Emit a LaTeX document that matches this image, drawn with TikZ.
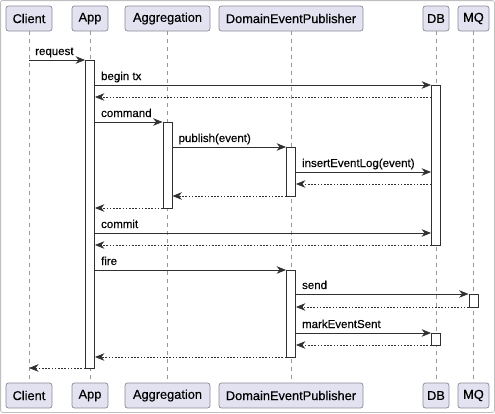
\documentclass[tikz,border=0pt]{standalone}
\usepackage{fontspec}
\setmainfont{Liberation Sans}[BoldFont={Liberation Sans},BoldFeatures={FakeBold=0.35}]
\usetikzlibrary{arrows.meta}
\definecolor{partfill}{HTML}{E2E2F0}
\definecolor{partline}{HTML}{8A8A96}
\definecolor{ink}{HTML}{303030}
\begin{document}
\begin{tikzpicture}[x=1pt,y=-1pt,
  part/.style={draw=partline,fill=partfill,rounded corners=2.5pt,line width=0.7pt,
    inner sep=0pt,minimum height=25pt,font=\fontsize{12.8}{14}\selectfont\bfseries,text=black},
  lifeline/.style={draw=black!40,line width=0.6pt,dash pattern=on 4pt off 4pt},
  act/.style={draw=ink,fill=white,line width=0.8pt,inner sep=0pt,minimum width=9pt},
  msg/.style={draw=ink,line width=0.8pt,-{Stealth[length=9.5pt,width=7.5pt,inset=3pt]}},
  ret/.style={msg,dash pattern=on 1.6pt off 1.6pt},
  lbl/.style={anchor=base west,inner sep=0pt,font=\fontsize{11.5}{13}\selectfont\bfseries,text=black},
]
\useasboundingbox (0,0) rectangle (495,413);
\draw[black!25,line width=0.8pt,rounded corners=2pt] (0.6,0.6) rectangle (494.4,412.4);

% participants, top and bottom
\foreach \n/\t/\x/\w in {cl/Client/29/46, ap/App/90/36, ag/Aggregation/167.5/85,
    dp/DomainEventPublisher/291/144, db/DB/436/26, mq/MQ/473.5/31}{
  \node[part,minimum width=\w pt] (\n T) at (\x,18.5) {\t};
  \node[part,minimum width=\w pt] (\n B) at (\x,395.5) {\t};
  \draw[lifeline] (\n T.south) -- (\n B.north);
}

% activation bars
\node[act,minimum height=308pt] (aApp) at (90,214) {};
\node[act,minimum height=160pt] (aDB1) at (436,165) {};
\node[act,minimum height=86pt]  (aAgg) at (167.5,165) {};
\node[act,minimum height=49pt]  (aDP1) at (291,171.5) {};
\node[act,minimum height=87pt]  (aDP2) at (291,313.5) {};
\node[act,minimum height=13pt]  (aMQ)  at (473.5,300.5) {};
\node[act,minimum height=12pt]  (aDB2) at (436,339) {};

% message rows
\foreach \r/\y in {r1/60, r2/85, r3/97, r4/122, r5/147, r6/172, r7/184, r8/196,
    r9/208, r10/233, r11/245, r12/270, r13/294, r14/307, r15/333, r16/345,
    r17/357, r18/368}{
  \coordinate (\r) at (0,\y);
}

\draw[msg] (clT.south |- r1) -- (aApp.west |- r1);
\node[lbl] (l1) at ([shift={(6,-5)}]clT.south |- r1) {request};

\draw[msg] (aApp.east |- r2) -- (aDB1.west |- r2);
\node[lbl] (l2) at ([shift={(6,-5)}]aApp.east |- r2) {begin tx};
\draw[ret] (aDB1.west |- r3) -- (aApp.east |- r3);

\draw[msg] (aApp.east |- r4) -- (aAgg.west |- r4);
\node[lbl] (l4) at ([shift={(6,-5)}]aApp.east |- r4) {command};

\draw[msg] (aAgg.east |- r5) -- (aDP1.west |- r5);
\node[lbl] (l5) at ([shift={(6,-5)}]aAgg.east |- r5) {publish(event)};

\draw[msg] (aDP1.east |- r6) -- (aDB1.west |- r6);
\node[lbl] (l6) at ([shift={(6,-5)}]aDP1.east |- r6) {insertEventLog(event)};
\draw[ret] (aDB1.west |- r7) -- (aDP1.east |- r7);

\draw[ret] (aDP1.west |- r8) -- (aAgg.east |- r8);
\draw[ret] (aAgg.west |- r9) -- (aApp.east |- r9);

\draw[msg] (aApp.east |- r10) -- (aDB1.west |- r10);
\node[lbl] (l10) at ([shift={(6,-5)}]aApp.east |- r10) {commit};
\draw[ret] (aDB1.west |- r11) -- (aApp.east |- r11);

\draw[msg] (aApp.east |- r12) -- (aDP2.west |- r12);
\node[lbl] (l12) at ([shift={(6,-5)}]aApp.east |- r12) {fire};

\draw[msg] (aDP2.east |- r13) -- (aMQ.west |- r13);
\node[lbl] (l13) at ([shift={(6,-5)}]aDP2.east |- r13) {send};
\draw[ret] (aMQ.west |- r14) -- (aDP2.east |- r14);

\draw[msg] (aDP2.east |- r15) -- (aDB2.west |- r15);
\node[lbl] (l15) at ([shift={(6,-5)}]aDP2.east |- r15) {markEventSent};
\draw[ret] (aDB2.west |- r16) -- (aDP2.east |- r16);

\draw[ret] (aDP2.west |- r17) -- (aApp.east |- r17);
\draw[ret] (aApp.west |- r18) -- (clT.south |- r18);
\end{tikzpicture}
\end{document}
